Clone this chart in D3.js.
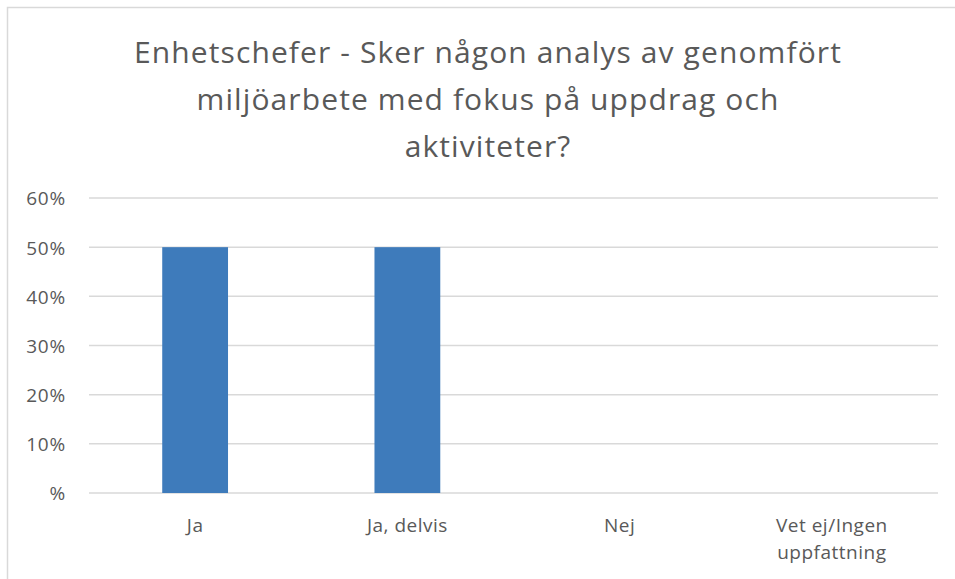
<!DOCTYPE html>
<html><head><meta charset="utf-8">
<script src="https://cdn.jsdelivr.net/npm/d3@7/dist/d3.min.js"></script>
<style>body{margin:0;background:#fff}svg{display:block}</style>
</head><body>
<script>
const titleLines = ["Enhetschefer - Sker någon analys av genomfört", "miljöarbete med fokus på uppdrag och", "aktiviteter?"];
const categories = [["Ja"], ["Ja, delvis"], ["Nej"], ["Vet ej/Ingen", "uppfattning"]];
const values = [0.5, 0.5, 0, 0];
const yTicks = [0, 0.1, 0.2, 0.3, 0.4, 0.5, 0.6];
const yTickLabels = ["%", "10%", "20%", "30%", "40%", "50%", "60%"];

const W = 955, H = 579;
const svg = d3.select("body").append("svg").attr("width", W).attr("height", H);
const font = "Open Sans, sans-serif";
const txt = "#595959";

// outer chart border
svg.append("rect").attr("x", 7.5).attr("y", 7.5).attr("width", 960).attr("height", 600)
  .attr("fill", "none").attr("stroke", "#d9d9d9").attr("stroke-width", 1.5);

const pLeft = 89, pRight = 938, pTop = 198, pBottom = 493;
const x = d3.scaleBand().domain(d3.range(categories.length)).range([pLeft, pRight]).paddingInner(0.69).paddingOuter(0.345);
const y = d3.scaleLinear().domain([0, 0.6]).range([pBottom, pTop]);

// gridlines
svg.append("g").selectAll("line").data(yTicks).join("line")
  .attr("x1", pLeft).attr("x2", pRight)
  .attr("y1", d => y(d)).attr("y2", d => y(d))
  .attr("stroke", "#d9d9d9").attr("stroke-width", 1.5);

// y axis labels
const yAxis = d3.axisLeft(y).tickValues(yTicks).tickFormat((d, i) => yTickLabels[i]).tickSize(0).tickPadding(0);
const gy = svg.append("g").attr("transform", "translate(66,0)").call(yAxis);
gy.select(".domain").remove();
gy.selectAll("text").attr("font-family", font).attr("font-size", 19).attr("letter-spacing", 0.8)
  .attr("fill", txt).attr("dy", "0.36em");

// bars
svg.append("g").selectAll("rect").data(values).join("rect")
  .attr("x", (d, i) => x(i)).attr("width", x.bandwidth())
  .attr("y", d => y(d)).attr("height", d => y(0) - y(d))
  .attr("fill", "#3e7bbb");

// x labels
const xl = svg.append("g").selectAll("text").data(categories).join("text")
  .attr("x", (d, i) => x(i) + x.bandwidth() / 2).attr("y", 532)
  .attr("text-anchor", "middle").attr("font-family", font).attr("font-size", 19)
  .attr("letter-spacing", 0.5).attr("fill", txt);
xl.each(function(d, i) {
  d3.select(this).selectAll("tspan").data(d).join("tspan")
    .attr("x", x(i) + x.bandwidth() / 2).attr("dy", (t, j) => j === 0 ? 0 : 27).text(t => t);
});

// title
svg.append("g").selectAll("text").data(titleLines).join("text")
  .attr("x", 488).attr("y", (d, i) => 63 + i * 47)
  .attr("text-anchor", "middle").attr("font-family", font).attr("font-size", 30)
  .attr("letter-spacing", 1.1).attr("fill", txt)
  .text(d => d);
</script>
</body></html>
